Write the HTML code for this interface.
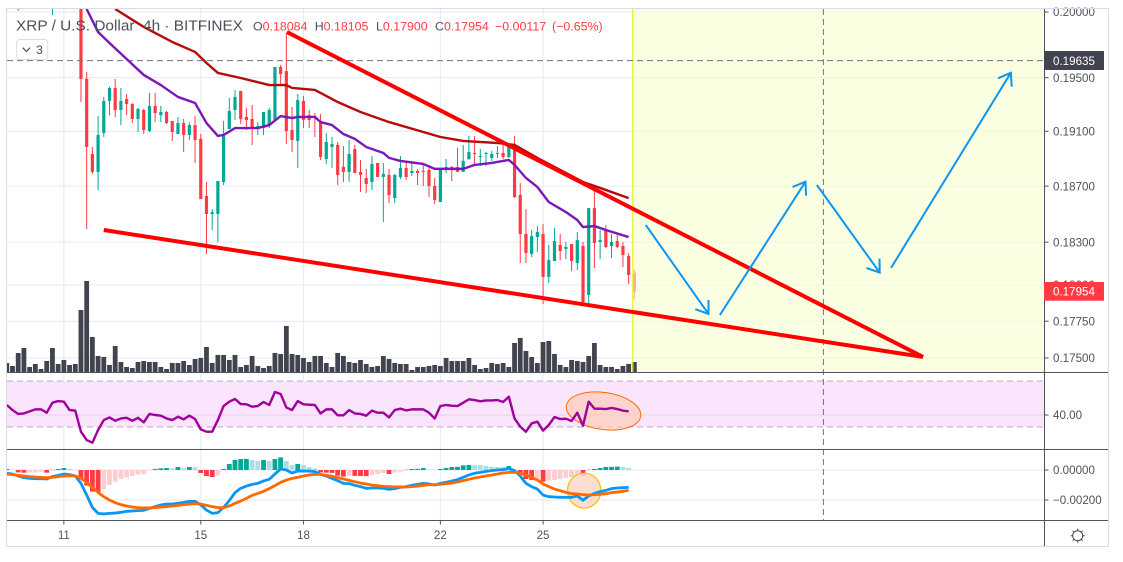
<!DOCTYPE html>
<html lang="en">
<head>
<meta charset="utf-8">
<title>XRP / U.S. Dollar 4h chart</title>
<style>
html,body{margin:0;padding:0;background:#fff;width:1123px;height:562px;overflow:hidden}
svg{display:block}
text{font-family:"Liberation Sans",sans-serif}
</style>
</head>
<body>
<svg id="chart" xmlns="http://www.w3.org/2000/svg" width="1123" height="562" viewBox="0 0 1123 562">
  <defs>
    <clipPath id="price-clip"><rect x="7" y="9" width="1037" height="363.3"/></clipPath>
    <clipPath id="rsi-clip"><rect x="7" y="373" width="1037" height="76"/></clipPath>
    <clipPath id="macd-clip"><rect x="7" y="450" width="1037" height="70"/></clipPath>
  </defs>
  <rect x="0" y="0" width="1123" height="562" fill="#ffffff"/>
  <g id="grid"></g>
  <g id="rsi-band">
    <rect x="7" y="381" width="1037" height="46" fill="#fae5fd"/>
    <line x1="7" x2="1044" y1="381" y2="381" stroke="#bda9c4" stroke-dasharray="6 4"/>
    <line x1="7" x2="1044" y1="427" y2="427" stroke="#bda9c4" stroke-dasharray="6 4"/>
    <line x1="7" x2="1044" y1="415" y2="415" stroke="#e3d3e8"/>
  </g>
  <g id="candles" clip-path="url(#price-clip)"></g>
  <rect x="633" y="9" width="411" height="363.3" fill="rgb(247,255,207)" fill-opacity="0.6"/>
  <g id="volume" clip-path="url(#price-clip)"></g>
  <line x1="632.8" x2="632.8" y1="9" y2="372" stroke="#e4f31c" stroke-width="1.2"/>
  <line x1="823.4" x2="823.4" y1="9" y2="520" stroke="#6f7280" stroke-dasharray="6 4"/>
  <line x1="7" x2="1044" y1="60.6" y2="60.6" stroke="#6f7280" stroke-dasharray="6 4"/>
  <g id="moving-averages" clip-path="url(#price-clip)"></g>
  <g id="drawings" clip-path="url(#price-clip)"></g>
  <g id="rsi" clip-path="url(#rsi-clip)"></g>
  <g id="macd" clip-path="url(#macd-clip)"></g>

  <line x1="7" x2="1108" y1="372.5" y2="372.5" stroke="#50535e"/>
  <line x1="7" x2="1108" y1="449.5" y2="449.5" stroke="#50535e"/>
  <line x1="7" x2="1108" y1="520.5" y2="520.5" stroke="#50535e"/>
  <line x1="1044.5" x2="1044.5" y1="9" y2="546" stroke="#50535e"/>
  <g id="axes"></g>

  <rect x="1044" y="51" width="60" height="19" fill="#41434f"/>
  <text x="1053" y="65" font-size="11.6" fill="#ffffff">0.19635</text>
  <rect x="1044" y="282" width="60" height="18.7" fill="#ff3a45"/>
  <text x="1053" y="295.5" font-size="11.6" fill="#ffffff">0.17954</text>

  <g>
    <text x="16" y="30.5" font-size="15" fill="#4d505a" textLength="227" lengthAdjust="spacingAndGlyphs" xml:space="preserve">XRP / U.S. Dollar  4h · BITFINEX</text>
    <g font-size="12.4">
      <text x="253" y="30.5" fill="#4d505a">O<tspan fill="#ff3a45">0.18084</tspan></text>
      <text x="314.7" y="30.5" fill="#4d505a">H<tspan fill="#ff3a45">0.18105</tspan></text>
      <text x="376" y="30.5" fill="#4d505a">L<tspan fill="#ff3a45">0.17900</tspan></text>
      <text x="435" y="30.5" fill="#4d505a">C<tspan fill="#ff3a45">0.17954</tspan></text>
      <text x="495" y="30.5" fill="#ff3a45">−0.00117</text>
      <text x="552" y="30.5" fill="#ff3a45">(−0.65%)</text>
    </g>
    <g>
      <rect x="16.7" y="39.5" width="31" height="20" rx="3" fill="#ffffff" stroke="#d9dce8"/>
      <polyline points="22.7,47.7 26.4,51.5 30,47.7" fill="none" stroke="#4d505a" stroke-width="1.2"/>
      <text x="36" y="54" font-size="12.4" fill="#4d505a">3</text>
    </g>
  </g>

  <g fill="none" stroke="#4a4c57">
    <circle cx="1077.7" cy="535.7" r="5"/>
    <path d="M1077.7 528.7v2M1077.7 540.7v2M1070.7 535.7h2M1082.7 535.7h2M1072.7 530.7l1.4 1.4M1081.3 539.3l1.4 1.4M1072.7 540.7l1.4-1.4M1081.3 532.1l1.4-1.4"/>
  </g>

  <g fill="none" stroke="#dadaea">
    <rect x="6.5" y="8.5" width="1102" height="538"/>
  </g>
</svg>

<script>
// ---- Bars (index 0 = leftmost). Prices are in units of 0.00001 USD. Bars 0-13 open above the visible range.
const opens = [20900,20700,20700,20500,20600,20650,20700,20600,20400,20600,20700,20750,20700,21000,
19490,18934,18803,19088,19325,19422,19258,19340,19302,19191,
19258,19102,19288,19220,19243,19176,19080,19161,19073,19146,
19044,18629,18500,18500,18730,19117,19258,19400,19206,19191,
19124,19124,19139,19183,19580,19549,19110,19029,19325,19220,
19213,19161,18897,18985,19000,18839,18803,18970,18803,18759,
18730,18868,18766,18781,18614,18766,18832,18795,18810,18810,
18817,18701,18586,18825,18839,18839,18803,18897,18941,18912,
18934,18905,18934,18941,18912,19000,18636,18358,18217,18336,
18358,18056,18167,18280,18252,18287,18153,18273,17930,18542,
18301,18386,18273,18308,18273,18202,18084];
const highs = [21000,20900,20850,20700,20800,20850,20800,20700,20650,20800,20900,20900,20850,21100,
19542,18985,19213,19355,19430,19490,19422,19377,19310,19273,
19265,19385,19385,19288,19250,19176,19206,19191,19168,19213,
19080,18730,18535,18737,19176,19347,19407,19400,19273,19295,
19168,19243,19273,19580,19595,19839,19280,19377,19362,19258,
19235,19228,19088,19058,19022,18992,19036,19000,18890,18825,
18919,18868,18868,18825,18788,18919,18876,18868,18825,18854,
18839,18759,18832,18897,18846,18978,19000,19066,19066,18970,
18948,18956,18992,19000,19014,19066,18723,18535,18386,18414,
18428,18280,18400,18358,18301,18287,18372,18301,18542,18665,
18386,18421,18358,18358,18301,18224,18105];
const lows = [20600,20500,20010,20100,20300,20400,20450,20200,19975,20300,20500,20500,20400,19317,
18393,18788,18672,19058,19220,19206,19146,19220,19161,19095,
19080,19095,19168,19168,19154,19029,19080,18948,19036,18868,
18607,18217,18386,18301,18708,19117,19183,19154,19110,19000,
19073,19073,19124,19176,19444,19007,18948,18832,19124,19124,
19058,18890,18861,18832,18708,18730,18730,18795,18658,18650,
18672,18766,18443,18578,18578,18752,18744,18774,18708,18701,
18622,18571,18586,18795,18737,18803,18803,18890,18854,18846,
18846,18883,18905,18897,18905,18614,18153,18153,18195,18231,
17868,18014,18167,18174,18181,18097,18104,17875,17875,18118,
18181,18259,18188,18259,18125,18007,17900];
const closes = [20700,20650,20300,20600,20700,20700,20600,20400,20600,20700,20750,20700,20600,19490,
18985,18803,19073,19325,19422,19258,19325,19302,19191,19265,
19110,19288,19235,19243,19161,19095,19161,19073,19146,19036,
18607,18500,18514,18737,19066,19250,19355,19191,19183,19124,
19139,19243,19258,19580,19527,19102,19036,19332,19183,19183,
19198,18912,19022,19007,18781,18803,18934,18795,18781,18715,
18861,18766,18788,18636,18781,18832,18766,18810,18795,18803,
18701,18600,18817,18839,18817,18803,18883,18948,18934,18919,
18941,18934,18941,18912,19000,18622,18358,18224,18343,18372,
18056,18174,18308,18238,18266,18167,18315,17882,18542,18294,
18315,18266,18301,18266,18209,18070,17954];
const volumes = [28,19,58,73,16,25,10,34,73,25,37,22,25,187,274,106,49,46,22,79,31,16,13,31,34,31,31,16,10,28,28,34,22,40,43,76,28,52,52,37,52,16,22,49,19,13,19,58,55,139,55,52,43,31,49,
49,28,16,58,49,31,28,37,25,16,19,49,40,28,25,25,7,16,16,19,22,19,43,34,34,34,43,22,10,13,28,25,28,16,88,103,64,46,28,91,94,55,22,16,37,34,31,49,88,22,16,16,10,19,25,31];

// ---- Moving averages, sampled at the listed bars
const maFastBars = [14,16,18,21,24,27,30,33,35,37,38,40,44,46,48,50,51,54,55,57,59,61,63,66,67,69,73,75,80,82,85,88,89,91,93,95,98,100,101,103,105,109];
const maFastValues = [20023,19846,19762,19640,19520,19444,19355,19310,19161,19066,19073,19124,19124,19146,19213,19198,19206,19206,19168,19146,19080,19044,18985,18941,18905,18883,18861,18825,18825,18854,18868,18890,18854,18759,18694,18586,18514,18457,18407,18414,18386,18336];
const maSlowBars = [19,24,29,33,35,37,41,46,49,50,54,55,58,62,67,73,76,80,86,89,93,101,104,109];
const maSlowValues = [20023,19885,19770,19694,19610,19535,19497,19444,19444,19422,19407,19385,19317,19243,19168,19095,19058,19029,19014,19000,18905,18730,18687,18614];

// ---- RSI (bars 0-109)
const rsiValues = [48.7,44.3,40.9,41.4,43.2,44.9,44.9,42,50.7,52.1,51.6,44.3,43.8,25.5,18.2,15.9,26.9,35.6,37.9,35,37,37.6,35,37.6,33.6,40.9,40,39.4,37,35.6,38.5,36.2,39.4,36.5,27.5,25.5,25.5,35.6,47.8,51.6,53.9,49.5,49.3,47.2,47.8,51.3,48.7,60,58.3,46.6,44.3,52.1,49.3,49,48.7,41.4,44.9,44.9,39.7,39.7,44.3,41.4,40.9,39.4,43.8,42,42,37.9,44.3,45.5,44,44.9,44.9,44.9,42,37,47.8,48.7,48.1,47.8,50.7,53.6,53,51.9,52.7,52.7,53,51.3,55.9,37,29.8,25.5,32.7,34.2,26.4,31.3,38.2,36.5,36.8,34.8,42,30.7,51.6,45.5,45.5,45.2,46.1,45.2,43.8,43.2];

// ---- MACD (bars 0-109), units of 0.00001
const macdValues = [-22,-27,-40,-51,-56,-58,-58,-60,-44,-36,-27,-31,-40,-89,-167,-249,-289,-293,-289,-287,-282,-276,-273,-271,-269,-256,-244,-233,-227,-227,-222,-216,-209,-209,-233,-267,-289,-284,-249,-204,-151,-122,-107,-96,-89,-73,-62,-27,7,0,-20,-7,-7,-7,-11,-29,-40,-56,-71,-89,-91,-102,-111,-122,-120,-120,-122,-129,-124,-116,-111,-102,-96,-89,-93,-100,-89,-82,-73,-64,-49,-33,-22,-16,-9,-4,0,2,9,-4,-40,-89,-111,-127,-167,-178,-180,-182,-182,-182,-173,-202,-173,-156,-144,-136,-124,-120,-118,-116];
const signalValues = [-27,-31,-36,-40,-44,-47,-49,-51,-49,-44,-40,-38,-40,-56,-82,-116,-149,-178,-200,-218,-231,-240,-247,-251,-253,-253,-251,-247,-244,-240,-236,-231,-227,-224,-227,-236,-244,-251,-251,-240,-222,-207,-189,-169,-156,-142,-124,-104,-82,-67,-56,-49,-40,-33,-29,-29,-36,-42,-51,-60,-69,-78,-87,-93,-100,-104,-109,-111,-113,-113,-113,-111,-107,-102,-98,-98,-96,-91,-87,-80,-71,-62,-53,-47,-40,-33,-27,-20,-16,-16,-22,-33,-49,-67,-93,-111,-127,-138,-149,-158,-160,-164,-167,-164,-162,-158,-151,-147,-142,-136];
const histValues = [7,2,-16,-18,-17,-16,-11,-18,2,7,13,7,2,-62,-104,-144,-146,-127,-100,-78,-60,-49,-40,-31,-27,-4,7,11,13,12,20,13,20,19,-20,-40,-47,-36,7,40,67,73,74,67,60,67,60,73,84,60,33,40,33,20,11,-16,-18,-19,-38,-44,-38,-39,-40,-41,-33,-27,-20,-27,-18,-11,2,7,8,13,4,2,7,13,20,21,31,34,33,32,27,22,20,19,27,2,-16,-60,-67,-60,-78,-71,-67,-60,-53,-47,-36,-40,2,7,13,20,21,22,20,13];

// ---- Axis ticks
const priceTicks = [0.2,0.195,0.191,0.187,0.183,0.18,0.1775,0.175];
const priceTickLabels = ['0.20000','0.19500','0.19100','0.18700','0.18300','0.18000','0.17750','0.17500'];
const rsiTicks = [40];
const rsiTickLabels = ['40.00'];
const macdTicks = [0,-200];
const macdTickLabels = ['0.00000','−0.00200'];
const timeTickBars = [10,34,52,76,94];
const timeTickLabels = ['11','15','18','22','25'];

// ---- User drawings, anchored by bar number and price (0.00001 USD)
const wedgeLineBars = [[49.1,160.6],[17,160.6]];
const wedgeLinePrices = [[19846,17507],[18386,17507]];
const arrowBars = [[112,123],[125,140],[142,153],[155,176]];
const arrowPrices = [[18421,17800],[17793,18732],[18708,18086],[18120,19537]];

// ---- Axis functions
const SVGNS = 'http://www.w3.org/2000/svg';
function x(bar){ return 6.8 + 5.705 * bar; }
function priceY(ticks){ return 12 + 2591 * Math.log(0.2 / (ticks / 1e5)); }
function volY(v){ return 372.3 - v / 3; }
function rsiY(v){ return 415 - (v - 40) * 1.15; }
function macdY(v){ return 470 - v * 0.15; }
function svgEl(tag, parent, attrs){
  const el = document.createElementNS(SVGNS, tag);
  for (const k in attrs) el.setAttribute(k, attrs[k]);
  parent.appendChild(el);
  return el;
}
function pathFrom(bars, values, yFn){
  return bars.map(function(b, i){ return (i ? 'L' : 'M') + x(b).toFixed(2) + ' ' + yFn(values[i]).toFixed(2); }).join('');
}
const allBars = rsiValues.map(function(_, i){ return i; });

// ---- Grid
const grid = document.getElementById('grid');
timeTickBars.forEach(function(b){
  const v = svgEl('line', grid, {x1:x(b), x2:x(b), y1:9, y2:520, stroke:'#e1ecf2', 'stroke-width':1});
  
  
});
priceTicks.forEach(function(p){
  const y = priceY(p * 1e5);
  const h = svgEl('line', grid, {x1:7, x2:1044, y1:y, y2:y, stroke:'#e1ecf2', 'stroke-width':1});
  
  
});
macdTicks.forEach(function(m){
  const h = svgEl('line', grid, {x1:7, x2:1044, y1:macdY(m), y2:macdY(m), stroke:'#e1ecf2', 'stroke-width':1});
  
  
});

// ---- Candles
const candleGroup = document.getElementById('candles');
opens.forEach(function(o, i){
  const c = closes[i];
  const color = c < o ? '#ff3a45' : '#00a896';
  const g = svgEl('g', candleGroup, {opacity: 1});
  
  
  const wick = svgEl('line', g, {x1:x(i), x2:x(i), y1:priceY(highs[i]), y2:priceY(lows[i]), stroke:color, 'stroke-width':1});
  
  
  const top = Math.min(priceY(o), priceY(c));
  const bot = Math.max(priceY(o), priceY(c));
  const body = svgEl('rect', g, {x:x(i) - 1.6, y:top, width:3.2, height:Math.max(1, bot - top), fill:color});
  
  
});

// ---- Volume
const volGroup = document.getElementById('volume');
volumes.forEach(function(v, i){
  const bar = svgEl('rect', volGroup, {x:x(i) - 2.4, y:volY(v), width:4.8, height:v / 3, fill:'#41434f'});
  
  
});

// ---- Moving averages
const maGroup = document.getElementById('moving-averages');
const slowLine = svgEl('path', maGroup, {d:pathFrom(maSlowBars, maSlowValues, priceY), fill:'none', stroke:'#b50c0c', 'stroke-width':2.4, 'stroke-linejoin':'round'});


const fastLine = svgEl('path', maGroup, {d:pathFrom(maFastBars, maFastValues, priceY), fill:'none', stroke:'#7c18b8', 'stroke-width':2.4, 'stroke-linejoin':'round'});



// ---- Drawings
const drawGroup = document.getElementById('drawings');
wedgeLineBars.forEach(function(bars, i){
  const line = svgEl('path', drawGroup, {d:pathFrom(bars, wedgeLinePrices[i], priceY), fill:'none', stroke:'#ff0000', 'stroke-width':4});
  
  
});
arrowBars.forEach(function(bars, i){
  const x1 = x(bars[0]), y1 = priceY(arrowPrices[i][0]);
  const x2 = x(bars[1]), y2 = priceY(arrowPrices[i][1]);
  const a = Math.atan2(y1 - y2, x1 - x2);
  const d35 = 35 * Math.PI / 180;
  const wingA = (x2 + 14 * Math.cos(a + d35)).toFixed(1) + ' ' + (y2 + 14 * Math.sin(a + d35)).toFixed(1);
  const wingB = (x2 + 14 * Math.cos(a - d35)).toFixed(1) + ' ' + (y2 + 14 * Math.sin(a - d35)).toFixed(1);
  const tip = x2.toFixed(1) + ' ' + y2.toFixed(1);
  const d = 'M' + x1.toFixed(1) + ' ' + y1.toFixed(1) + 'L' + tip + 'M' + wingA + 'L' + tip + 'L' + wingB;
  const arrow = svgEl('path', drawGroup, {d:d, fill:'none', stroke:'#0a96f5', 'stroke-width':2});
  
  
});

// ---- RSI
const rsiGroup = document.getElementById('rsi');
const rsiEllipse = svgEl('ellipse', rsiGroup, {cx:x(104.6), cy:rsiY(43.5), rx:37.5, ry:18.5, fill:'#ffc8ae', 'fill-opacity':0.6, stroke:'#ff6a00', 'stroke-width':1, transform:'rotate(8 ' + x(104.6) + ' ' + rsiY(43.5) + ')'});


const rsiLine = svgEl('path', rsiGroup, {d:pathFrom(allBars, rsiValues, rsiY), fill:'none', stroke:'#a0009c', 'stroke-width':2.4, 'stroke-linejoin':'round'});



// ---- MACD
const macdGroup = document.getElementById('macd');
histValues.forEach(function(v, i){
  const prev = i ? histValues[i - 1] : 0;
  const color = v >= 0 ? (v >= prev ? '#00a896' : '#a9e0e6') : (v <= prev ? '#ff3a45' : '#ffcdd0');
  const top = Math.min(macdY(0), macdY(v));
  const bar = svgEl('rect', macdGroup, {x:x(i) - 2.4, y:top, width:4.8, height:Math.abs(macdY(v) - macdY(0)), fill:color});
  
  
});
const macdEllipse = svgEl('ellipse', macdGroup, {cx:x(101.2), cy:macdY(-137), rx:16.7, ry:17.5, fill:'#fcd8c8', 'fill-opacity':0.85, stroke:'#f2c000', 'stroke-width':1.2});


const macdLine = svgEl('path', macdGroup, {d:pathFrom(allBars, macdValues, macdY), fill:'none', stroke:'#0a96f5', 'stroke-width':2.8, 'stroke-linejoin':'round'});


const signalLine = svgEl('path', macdGroup, {d:pathFrom(allBars, signalValues, macdY), fill:'none', stroke:'#ff6a00', 'stroke-width':2.8, 'stroke-linejoin':'round'});



// ---- Axis ticks and labels
const axes = document.getElementById('axes');
function yTick(y, label, name){
  const t = svgEl('line', axes, {x1:1044.5, x2:1048.5, y1:y, y2:y, stroke:'#50535e'});
  
  
  const txt = svgEl('text', axes, {x:1053, y:y + 4.2, 'font-size':11.6, fill:'#4f5259'});
  
  
  txt.textContent = label;
}
priceTicks.forEach(function(p, i){ yTick(priceY(p * 1e5), priceTickLabels[i], 'price-axis'); });
rsiTicks.forEach(function(v, i){ yTick(rsiY(v), rsiTickLabels[i], 'rsi-axis'); });
macdTicks.forEach(function(v, i){ yTick(macdY(v), macdTickLabels[i], 'macd-axis'); });
timeTickBars.forEach(function(b, i){
  const t = svgEl('line', axes, {x1:x(b), x2:x(b), y1:520.5, y2:524.5, stroke:'#50535e'});
  
  
  const txt = svgEl('text', axes, {x:x(b), y:539, 'font-size':11.6, fill:'#4f5259', 'text-anchor':'middle'});
  
  
  txt.textContent = timeTickLabels[i];
});
</script>
</body>
</html>
